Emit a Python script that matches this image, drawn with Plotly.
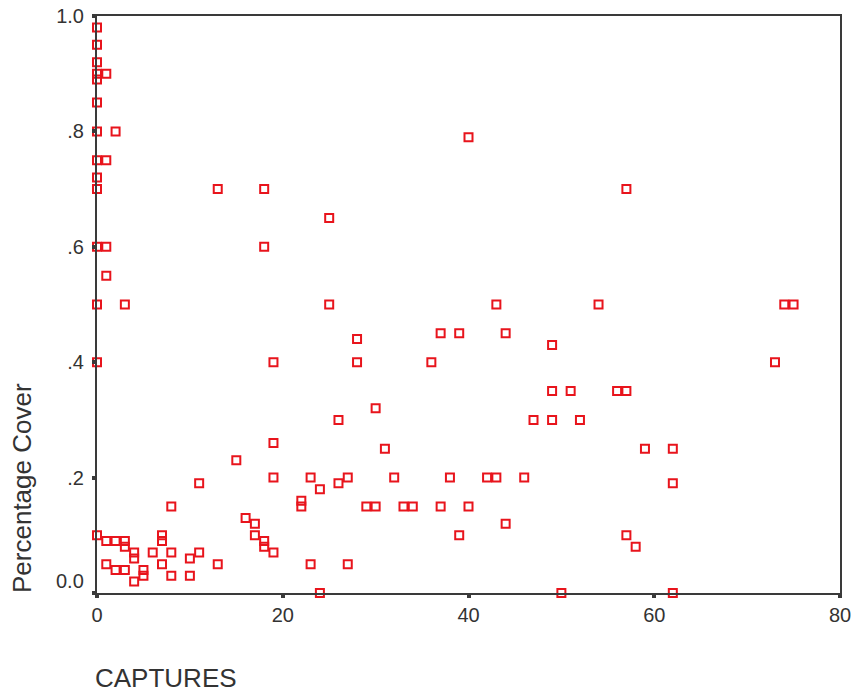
import plotly.graph_objects as go

# Captures vs. percentage cover, one point per site
captures = [
    0, 0, 0, 0, 0, 0, 0, 0, 0, 0, 0, 0, 0, 0,
    1, 1, 1, 1, 1, 1,
    2, 2, 2,
    3, 3, 3, 3,
    4, 4, 4,
    5, 5,
    6,
    7, 7, 7,
    8, 8, 8,
    10, 10,
    11, 11,
    13, 13,
    15,
    16,
    17, 17,
    18, 18, 18, 18,
    19, 19, 19, 19,
    22, 22,
    23, 23,
    24, 24,
    25, 25,
    26, 26,
    27, 27,
    28, 28,
    29,
    30, 30,
    31, 32, 33, 34, 36,
    37, 37,
    38,
    39, 39,
    40, 40,
    42,
    43, 43,
    44, 44,
    46, 47,
    49, 49, 49,
    50, 51, 52, 54, 56,
    57, 57, 57,
    58, 59,
    62, 62, 62,
    73, 74, 75,
]
cover = [
    0.98, 0.95, 0.92, 0.90, 0.89, 0.85, 0.80, 0.75, 0.72, 0.70, 0.60, 0.50, 0.40, 0.10,
    0.90, 0.75, 0.60, 0.55, 0.09, 0.05,
    0.80, 0.09, 0.04,
    0.50, 0.09, 0.08, 0.04,
    0.07, 0.06, 0.02,
    0.04, 0.03,
    0.07,
    0.10, 0.09, 0.05,
    0.15, 0.07, 0.03,
    0.06, 0.03,
    0.19, 0.07,
    0.70, 0.05,
    0.23,
    0.13,
    0.12, 0.10,
    0.70, 0.60, 0.09, 0.08,
    0.40, 0.26, 0.20, 0.07,
    0.16, 0.15,
    0.20, 0.05,
    0.18, 0.00,
    0.65, 0.50,
    0.30, 0.19,
    0.20, 0.05,
    0.44, 0.40,
    0.15,
    0.32, 0.15,
    0.25, 0.20, 0.15, 0.15, 0.40,
    0.45, 0.15,
    0.20,
    0.45, 0.10,
    0.79, 0.15,
    0.20,
    0.50, 0.20,
    0.45, 0.12,
    0.20, 0.30,
    0.43, 0.35, 0.30,
    0.00, 0.35, 0.30, 0.50, 0.35,
    0.70, 0.35, 0.10,
    0.08, 0.25,
    0.25, 0.19, 0.00,
    0.40, 0.50, 0.50,
]

x_ticks = [0, 20, 40, 60, 80]
y_ticks = [0.2, 0.4, 0.6, 0.8, 1.0]
y_tick_text = [".2", ".4", ".6", ".8", "1.0"]

FONT = "Liberation Sans, Arial, Helvetica, sans-serif"
TEXT_COLOR = "#333333"
AXIS_COLOR = "#3a3a3a"
RED = "#e8141c"

fig = go.Figure(
    go.Scatter(
        x=captures,
        y=cover,
        mode="markers",
        marker=dict(symbol="square-open", size=8, color=RED,
                    line=dict(color=RED, width=2)),
        cliponaxis=False,
        showlegend=False,
    )
)

axis_common = dict(
    showgrid=False,
    zeroline=False,
    showline=True,
    linecolor=AXIS_COLOR,
    linewidth=2,
    mirror=True,
    ticks="outside",
    ticklen=3,
    tickwidth=4,
    tickcolor=AXIS_COLOR,
    automargin=False,
    tickfont=dict(family=FONT, size=20, color=TEXT_COLOR),
)

fig.update_xaxes(range=[0, 80], tickvals=x_ticks, **axis_common)
fig.update_yaxes(range=[0, 1.0], tickvals=[0] + y_ticks, ticktext=[""] + y_tick_text,
                 ticklabelstandoff=4, **axis_common)

L, R, T, B = 97, 13, 16, 100
W, H = 853, 693
plot_w = W - L - R
plot_h = H - T - B

fig.update_layout(
    width=W,
    height=H,
    margin=dict(l=L, r=R, t=T, b=B, autoexpand=False),
    plot_bgcolor="white",
    paper_bgcolor="white",
    annotations=[
        # bottom y label sits slightly above the origin
        dict(text="0.0", x=0, xref="paper", xanchor="right", xshift=-11,
             y=0.02, yref="y", yanchor="middle", showarrow=False,
             font=dict(family=FONT, size=20, color=TEXT_COLOR)),
        dict(text="Percentage Cover", x=-(L - 22) / plot_w, xref="paper",
             xanchor="center", y=(H - B - 488) / plot_h, yref="paper",
             yanchor="middle", showarrow=False, textangle=-90,
             font=dict(family=FONT, size=26, color=TEXT_COLOR)),
        dict(text="CAPTURES", x=0, xref="paper", xanchor="left", xshift=-3,
             y=0, yref="paper", yanchor="middle", yshift=-85, showarrow=False,
             borderpad=0, font=dict(family=FONT, size=26, color=TEXT_COLOR)),
    ],
)

fig.write_html("out.html")
